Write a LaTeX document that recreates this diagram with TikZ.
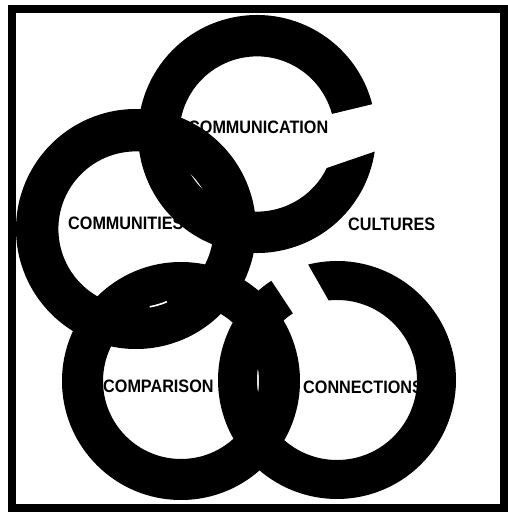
\documentclass[tikz,border=0pt]{standalone}
\usepackage{fontspec}
\newfontfamily\capsfont[FakeStretch=0.9]{Liberation Sans}
\usetikzlibrary{calc}
\newcommand{\fullring}[3]{\fill[even odd rule] (#1) circle[radius=#2] (#1) circle[radius=#3];}

\begin{document}
\begin{tikzpicture}[x=1pt,y=1pt,lbl/.style={font=\capsfont\bfseries\fontsize{18}{18}\selectfont,inner sep=0pt,anchor=west}]
  \useasboundingbox (0,0) rectangle (507,512);
  \draw[line width=8pt] (12,4) rectangle (504,503);
  \coordinate (cmn) at (257,378);
  \coordinate (cty) at (136,283);
  \coordinate (cmp) at (181,131);
  \coordinate (cnx) at (337,132);
  \fill ($(cmn)+(14.5:119)$) arc[start angle=14.5,end angle=351.5,radius=119] -- ($(cmn)+(334:77.6)$) arc[start angle=334,end angle=15,radius=77.6] -- cycle;
  \fullring{cty}{120}{77.6}
  \fullring{cmp}{119}{78}
  \fill ($(cnx)+(123.5:119)$) arc[start angle=123.5,end angle=464,radius=119] -- ($(cnx)+(456:80)$) arc[start angle=456,end angle=123.5,radius=80] -- cycle;
  \node[lbl] (communication) at (188,385) {COMMUNICATION};
  \node[lbl] (communities) at (68,289) {COMMUNITIES};
  \node[lbl] (cultures) at (348,288) {CULTURES};
  \node[lbl] (comparison) at (103,126) {COMPARISON};
  \node[lbl] (connections) at (303,125) {CONNECTIONS};
  \draw[white,line width=1.6pt] ($(cty)+(-80:79)$) arc[start angle=-80,end angle=-67,radius=79];
\end{tikzpicture}
\end{document}
